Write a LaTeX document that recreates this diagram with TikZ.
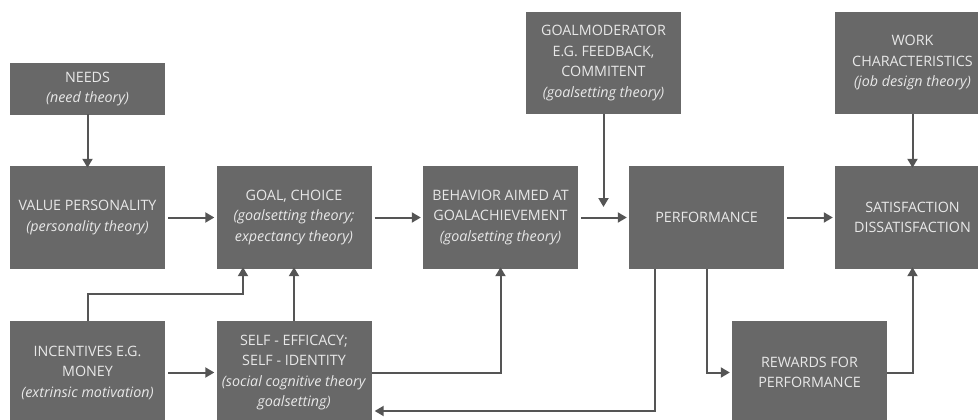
\documentclass[tikz,border=0pt]{standalone}
\usepackage{fontspec}
\setmainfont{Open Sans}
\usetikzlibrary{arrows.meta}
\definecolor{boxgray}{RGB}{104,104,104}
\definecolor{txtgray}{RGB}{232,232,232}
\definecolor{arrgray}{RGB}{85,85,85}
\tikzset{
  box/.style={fill=boxgray, draw=none, text=txtgray, align=center, minimum width=155pt, minimum height=103pt, inner sep=0pt, font=\fontsize{14.3}{20.5}\selectfont},
  arr/.style={draw=arrgray, line width=2pt, -{Triangle[length=9pt,width=10pt]}},
  ln/.style={draw=arrgray, line width=2pt}
}
\begin{document}
\begin{tikzpicture}[x=1pt,y=-1pt]
\useasboundingbox (0,0) rectangle (978,420);
\clip (0,0) rectangle (978,420);
% boxes
\node[box, minimum height=52pt] (needs) at (87.5,89) {NEEDS\\ \textit{(need theory)}};
\node[box] (value) at (87.5,217.5) {VALUE PERSONALITY\\ \textit{(personality theory)}};
\node[box] (incent) at (87.5,372.5) {INCENTIVES E.G.\\ MONEY\\ \textit{(extrinsic motivation)}};
\node[box] (goal) at (294,217.5) {GOAL, CHOICE\\ \textit{(goalsetting theory;}\\ \textit{expectancy theory)}};
\node[box] (self) at (294,372.5) {SELF - EFFICACY;\\ SELF - IDENTITY\\ \textit{(social cognitive theory}\\ \textit{goalsetting)}};
\node[box] (behav) at (500.5,217.5) {BEHAVIOR AIMED AT\\ GOALACHIEVEMENT\\ \textit{(goalsetting theory)}};
\node[box, minimum height=102pt] (gmod) at (603.5,63) {GOALMODERATOR\\ E.G. FEEDBACK,\\ COMMITENT\\ \textit{(goalsetting theory)}};
\node[box] (perf) at (706.5,217.5) {PERFORMANCE};
\node[box, minimum height=102pt] (work) at (912.5,63) {WORK\\ CHARACTERISTICS\\ \textit{(job design theory)}};
\node[box] (sat) at (912.5,217.5) {SATISFACTION\\ DISSATISFACTION};
\node[box] (rew) at (809.5,372.5) {REWARDS FOR\\ PERFORMANCE};
% helper coordinates
\coordinate (j1) at (243,294);
\coordinate (gm) at (603.5,207);
\coordinate (r1) at (655,411);
\coordinate (r2) at (706.5,372.5);
% connectors
\draw[arr] ([yshift=1pt]needs.south) -- ([yshift=-2pt]value.north);
\draw[arr] ([xshift=3pt]value.east) -- ([xshift=-2pt]goal.west);
\draw[arr] ([xshift=3pt]incent.east) -- ([xshift=-2pt]self.west);
\draw[arr] (incent.north) |- (j1) -- ([yshift=2pt]j1 |- goal.south);
\draw[arr] (self.north) -- ([yshift=2pt]goal.south);
\draw[arr] ([xshift=3pt]goal.east) -- ([xshift=-2pt]behav.west);
\draw[arr] (self.east) -| ([yshift=2pt]behav.south);
\draw[arr] ([xshift=3pt]behav.east) -- ([xshift=-2pt]perf.west);
\draw[arr] (gmod.south) -- (gm);
\draw[arr] ([xshift=3pt]perf.east) -- ([xshift=-2pt]sat.west);
\draw[arr] (work.south) -- ([yshift=-2pt]sat.north);
\draw[arr] (perf.south -| r1) -- (r1) -- ([xshift=3pt]r1 -| self.east);
\draw[arr] (perf.south) -- (r2) -- ([xshift=-2pt]rew.west);
\draw[arr] (rew.east) -| ([yshift=2pt]sat.south);
\end{tikzpicture}
\end{document}
